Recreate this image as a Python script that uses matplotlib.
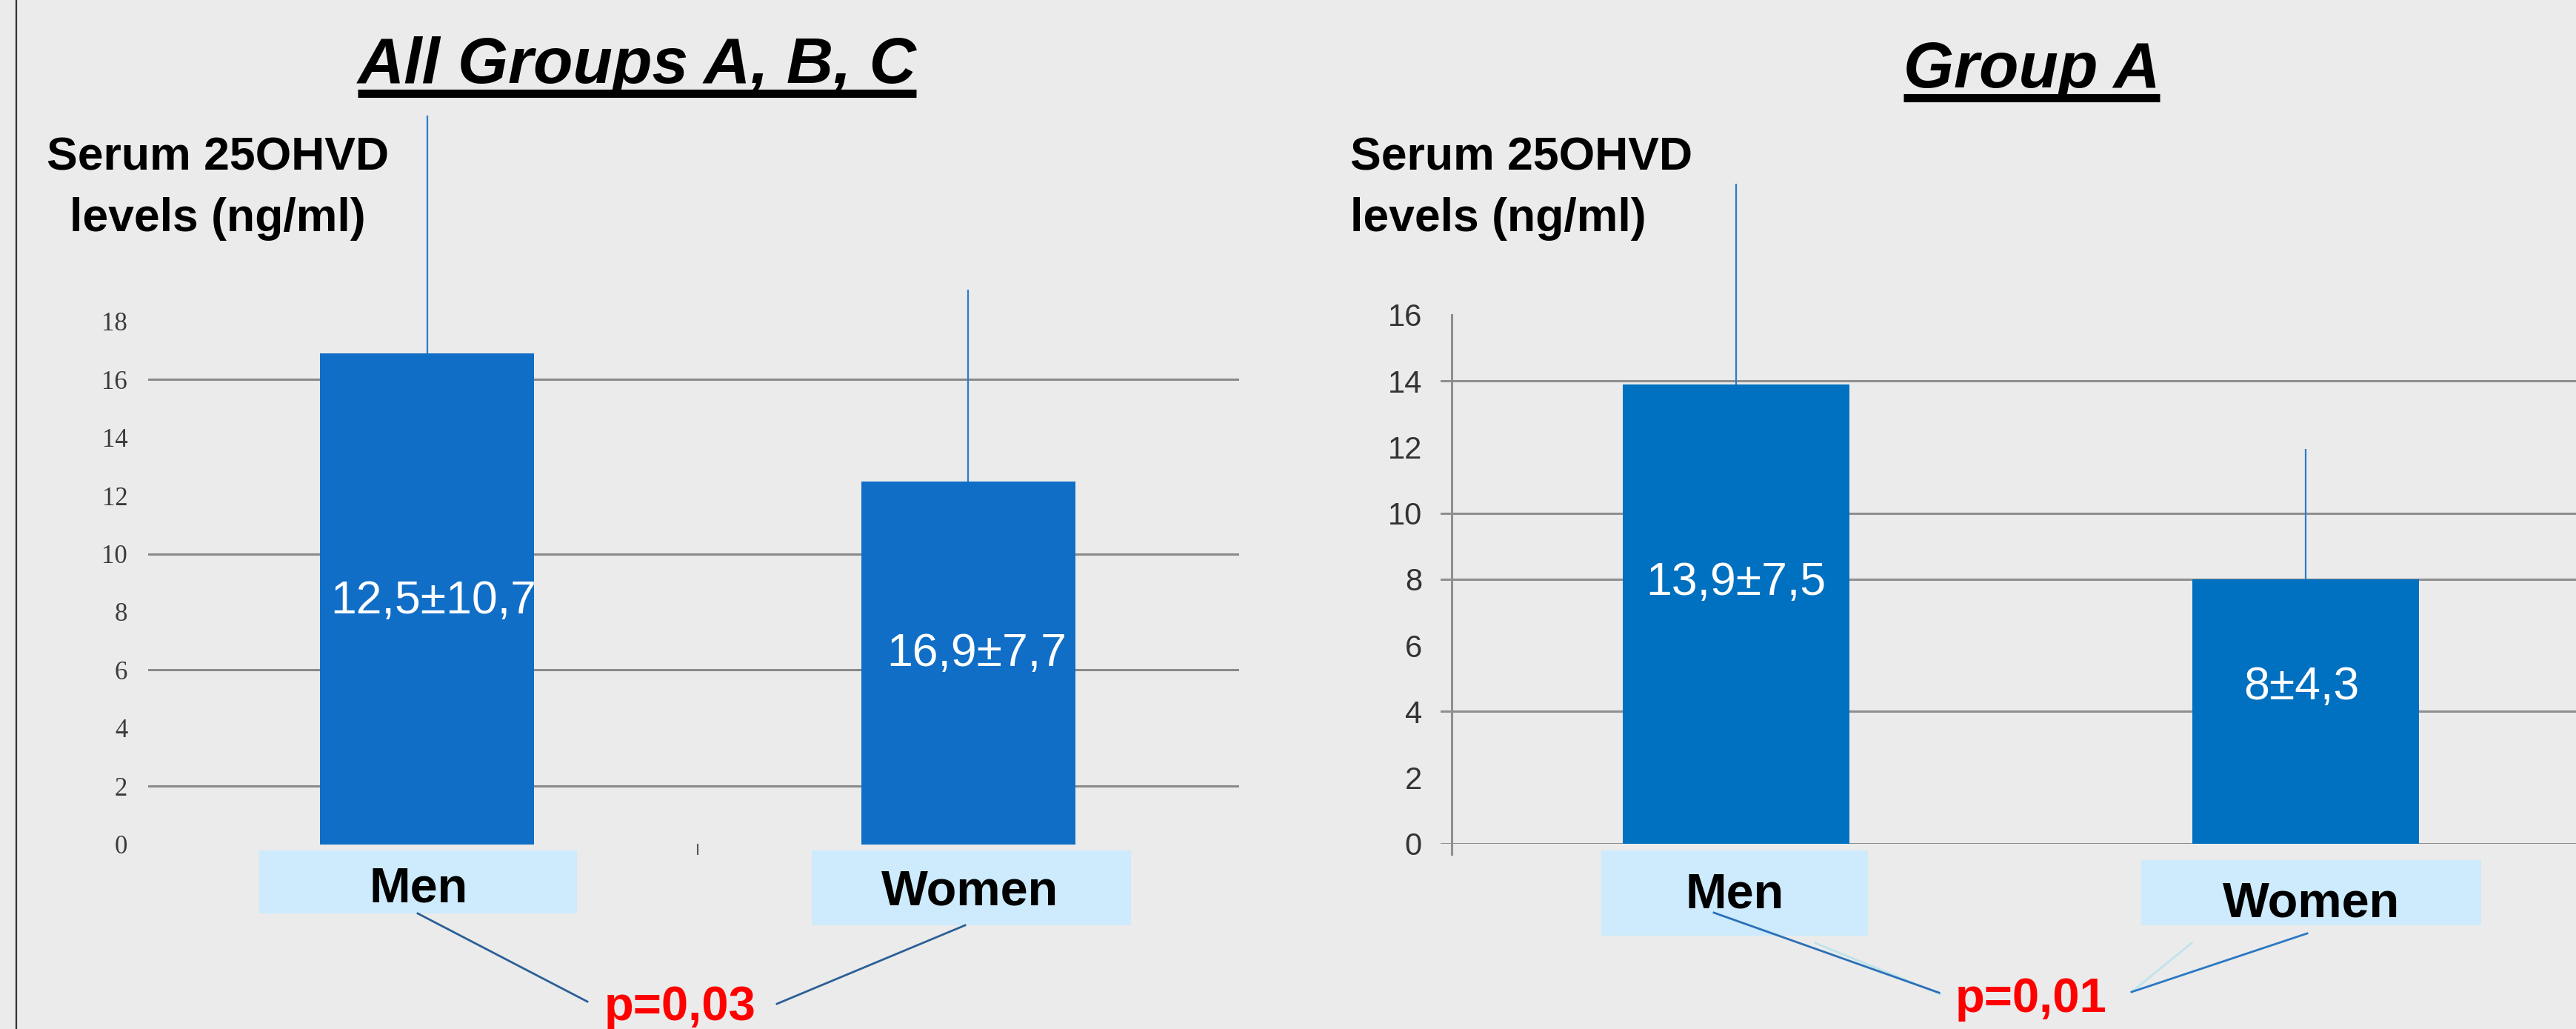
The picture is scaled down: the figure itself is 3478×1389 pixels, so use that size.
# ==== Serum 25OHVD: men vs women (all groups / group A) ====
import matplotlib.pyplot as plt
from matplotlib.lines import Line2D
from matplotlib.patches import Rectangle
import numpy as np

# ==== data ====
categories = ['Men', 'Women']

all_means = [16.9, 12.5]          # All Groups A, B, C
all_err_up = [8.2, 6.6]
all_bar_text = ['12,5±10,7', '16,9±7,7']
all_ticks = list(range(0, 19, 2))
all_grid = [2, 6, 10, 16]
all_p = 'p=0,03'

a_means = [13.9, 8.0]             # Group A
a_err_up = [6.05, 3.94]
a_bar_text = ['13,9±7,5', '8±4,3']
a_ticks = list(range(0, 17, 2))
a_grid = [0, 4, 8, 10, 14]
a_p = 'p=0,01'

# ==== figure setup ====
W, H = 3478, 1389
BG = '#ebebeb'
SANS = ['Liberation Sans', 'DejaVu Sans']
fig = plt.figure(figsize=(W / 100, H / 100), dpi=100, facecolor=BG)


def fx(px):
    return px / W


def fy(py):
    return 1 - py / H


def add_axes_px(left, right, y0, px_per_unit, ymax):
    # axes whose y=0 sits at pixel row y0 (from top)
    h = ymax * px_per_unit
    ax = fig.add_axes([fx(left), fy(y0), (right - left) / W, h / H])
    ax.set_facecolor('none')
    ax.set_ylim(0, ymax)
    for s in ax.spines.values():
        s.set_visible(False)
    return ax


x = np.arange(len(categories))

# ==== left chart ====
ax1 = add_axes_px(200, 1673, 1139.6, 39.2, 26)
ax1.set_xlim(-0.516, 1.501)
for g in all_grid:
    ax1.axhline(g, color='#8a8a8a', lw=2.2, zorder=1)
ax1.bar(x, all_means, width=0.396, color='#106ec6', zorder=2)
ax1.errorbar(x, all_means, yerr=[np.zeros(len(x)), all_err_up], fmt='none',
             ecolor='#2a7cc8', elinewidth=1.6, capsize=0, zorder=3, clip_on=False)
ax1.plot([0.5, 0.5], [0, -0.33], color='#555555', lw=1.5, clip_on=False)
ax1.set_yticks(all_ticks)
ax1.set_xticks([])
ax1.tick_params(axis='y', length=0, pad=20)
for lab in ax1.get_yticklabels():
    lab.set_fontfamily(['Liberation Serif', 'DejaVu Serif'])
    lab.set_fontsize(25)
    lab.set_color('#3a3a3a')
for xi, yi, t in zip([0.011, 1.016], [8.36, 6.57], all_bar_text):
    ax1.text(xi, yi, t, color='white', fontsize=45, family=SANS,
             ha='center', va='center', zorder=4)

# ==== right chart ====
ax2 = add_axes_px(1945, 3478, 1139, 44.64, 20.5)
ax2.set_xlim(-0.519, 1.4746)
for g in a_grid:
    ax2.axhline(g, color='#8f8f8f', lw=2.2, zorder=1)
ax2.plot([-0.5, -0.5], [-0.31, 16], color='#8f8f8f', lw=2.2, clip_on=False, zorder=1)
ax2.bar(x, a_means, width=0.398, color='#0070c0', zorder=2)
ax2.errorbar(x, a_means, yerr=[np.zeros(len(x)), a_err_up], fmt='none',
             ecolor='#2a7cc8', elinewidth=1.6, capsize=0, zorder=3)
ax2.set_yticks(a_ticks)
ax2.set_xticks([])
ax2.tick_params(axis='y', length=0, pad=18, labelsize=30, labelcolor='#333333')
for lab in ax2.get_yticklabels():
    lab.set_fontfamily(SANS)
for xi, yi, t in zip([0.0, 0.993], [7.89, 4.73], a_bar_text):
    ax2.text(xi, yi, t, color='white', fontsize=45, family=SANS,
             ha='center', va='center', zorder=4)

# ==== left border ====
fig.add_artist(Line2D([fx(22), fx(22)], [0, 1], color='#333333', lw=1.6))

# ==== titles (underlined) ====
titles = []
for t, cx, base in [('All Groups A, B, C', 860, 112), ('Group A', 2743, 118)]:
    tt = fig.text(fx(cx), fy(base), t, fontsize=63, fontweight='bold', fontstyle='italic',
                  family=SANS, ha='center', va='baseline')
    titles.append((tt, base))

# ==== y-axis captions ====
fig.text(fx(294), fy(230), 'Serum 25OHVD', fontsize=45, fontweight='bold', family=SANS,
         ha='center', va='baseline')
fig.text(fx(294), fy(312), 'levels (ng/ml)', fontsize=45, fontweight='bold', family=SANS,
         ha='center', va='baseline')
fig.text(fx(1823), fy(230), 'Serum 25OHVD', fontsize=45, fontweight='bold', family=SANS,
         ha='left', va='baseline')
fig.text(fx(1823), fy(312), 'levels (ng/ml)', fontsize=45, fontweight='bold', family=SANS,
         ha='left', va='baseline')

# ==== category boxes ====
boxes = [  # (x0, x1, y0, y1, text cx, text baseline)
    (350, 779, 1148, 1233, 565, 1217),
    (1096, 1527, 1148, 1249, 1310, 1222),
    (2162, 2522, 1148, 1263, 2342, 1226),
    (2891, 3350, 1161, 1249, 3121, 1238),
]
for (x0, x1, y0, y1, tx, tb), name in zip(boxes, categories * 2):
    fig.add_artist(Rectangle((fx(x0), fy(y1)), (x1 - x0) / W, (y1 - y0) / H,
                             transform=fig.transFigure, facecolor='#cdebfc',
                             edgecolor='none'))
    fig.text(fx(tx), fy(tb), name, fontsize=48, fontweight='bold', family=SANS,
             ha='center', va='baseline')

# ==== p-values with connectors ====
fig.text(fx(918), fy(1377), all_p, color='#ff0000', fontsize=47, fontweight='bold',
         family=SANS, ha='center', va='baseline')
fig.text(fx(2742), fy(1366), a_p, color='#ff0000', fontsize=47, fontweight='bold',
         family=SANS, ha='center', va='baseline')
connectors = [
    ((564, 1233), (793, 1352), '#2b5f97'),
    ((1303, 1249), (1049, 1355), '#2b5f97'),
    ((2451, 1273), (2620, 1342), '#bfe3ea'),
    ((2959, 1273), (2878, 1339), '#bfe3ea'),
    ((2314, 1232), (2618, 1340), '#2a6fb8'),
    ((3115, 1260), (2878, 1339), '#2a77c4'),
]
for (xa, ya), (xb, yb), c in connectors:
    fig.add_artist(Line2D([fx(xa), fx(xb)], [fy(ya), fy(yb)], color=c, lw=2.0))

# ==== underline titles from their rendered extent ====
fig.canvas.draw()
for tt, base in titles:
    bb = tt.get_window_extent()
    y_ul = fy(base + 14)
    fig.add_artist(Line2D([bb.x0 / W, bb.x1 / W], [y_ul, y_ul], color='black', lw=8,
                          solid_capstyle='butt'))

fig.savefig('out.png', dpi=100, facecolor=BG)
